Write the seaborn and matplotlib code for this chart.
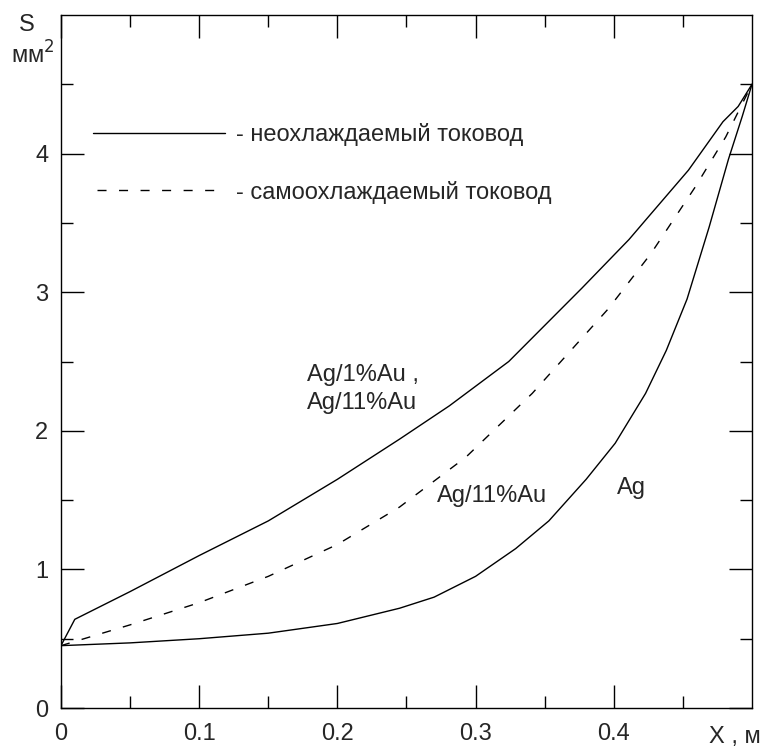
import numpy as np
import pandas as pd
import matplotlib
matplotlib.use("Agg")
import matplotlib.pyplot as plt
import seaborn as sns
from matplotlib.ticker import FixedLocator

# ------------------------------------------------------------
# Data
# ------------------------------------------------------------
# uncooled lead, Ag/1%Au and Ag/11%Au (upper solid)
x_upper = [0, 0.01, 0.05, 0.1, 0.15, 0.2, 0.245, 0.281, 0.324, 0.35, 0.377,
           0.411, 0.423, 0.454, 0.479, 0.49, 0.5]
s_upper = [0.45, 0.64, 0.84, 1.10, 1.35, 1.65, 1.94, 2.18, 2.50, 2.76, 3.03,
           3.38, 3.52, 3.88, 4.23, 4.34, 4.5]

# self-cooled lead, Ag/11%Au (dashed)
x_dash = [0, 0.02, 0.05, 0.1, 0.15, 0.2, 0.245, 0.293, 0.341, 0.396, 0.427,
          0.459, 0.481, 0.5]
s_dash = [0.45, 0.51, 0.60, 0.76, 0.95, 1.18, 1.45, 1.81, 2.27, 2.88, 3.28,
          3.76, 4.12, 4.5]

# uncooled lead, Ag (lower solid)
x_ag = [0, 0.05, 0.1, 0.15, 0.2, 0.245, 0.27, 0.3, 0.329, 0.353, 0.38, 0.401,
        0.423, 0.438, 0.453, 0.469, 0.483, 0.493, 0.5]
s_ag = [0.45, 0.47, 0.50, 0.54, 0.61, 0.72, 0.80, 0.95, 1.15, 1.35, 1.65, 1.91,
        2.27, 2.58, 2.95, 3.47, 3.96, 4.27, 4.5]

legend_labels = ["- неохлаждаемый токовод", "- самоохлаждаемый токовод"]

df = pd.concat([
    pd.DataFrame({"x": x_upper, "s": s_upper, "curve": "upper"}),
    pd.DataFrame({"x": x_dash, "s": s_dash, "curve": "dash"}),
    pd.DataFrame({"x": x_ag, "s": s_ag, "curve": "ag"}),
])

# ------------------------------------------------------------
# Style
# ------------------------------------------------------------
sns.set_style("white")
plt.rcParams["font.family"] = ["Liberation Sans", "DejaVu Sans"]
fs = 17

fig = plt.figure(figsize=(7.66, 7.49), dpi=100)
ax = fig.add_axes([0.0796, 0.0547, 0.9021, 0.9253])

dash_style = (0, (6.5, 9))
for name, ls in [("upper", "-"), ("dash", dash_style), ("ag", "-")]:
    sns.lineplot(data=df[df["curve"] == name], x="x", y="s", color="black",
                 linewidth=1.0, linestyle=ls, sort=False, estimator=None, ax=ax)

ax.set_xlim(0, 0.5)
ax.set_ylim(0, 5)
ax.set_xlabel("")
ax.set_ylabel("")

# ticks: inward, mirrored on all sides
ax.xaxis.set_major_locator(FixedLocator([0, 0.1, 0.2, 0.3, 0.4]))
ax.xaxis.set_minor_locator(FixedLocator([0.05, 0.15, 0.25, 0.35, 0.45]))
ax.set_xticklabels(["0", "0.1", "0.2", "0.3", "0.4"])
ax.yaxis.set_major_locator(FixedLocator([0, 1, 2, 3, 4]))
ax.yaxis.set_minor_locator(FixedLocator([0.5, 1.5, 2.5, 3.5, 4.5]))
ax.set_yticklabels(["0", "1", "2", "3", "4"])
ax.tick_params(which="both", direction="in", top=True, right=True,
               bottom=True, left=True, color="black", width=1.0)
ax.tick_params(which="major", length=16.5)
ax.tick_params(which="minor", length=8.6)
ax.tick_params(axis="x", which="major", pad=11, labelsize=fs)
ax.tick_params(axis="y", which="major", pad=9, labelsize=fs)

for sp in ax.spines.values():
    sp.set_color("black")
    sp.set_linewidth(1.0)

# axis titles
fig.text(27 / 766, 1 - 25 / 749, "S", ha="center", va="center", fontsize=fs)
fig.text(33 / 766, 1 - 55 / 749, "мм$^2$", ha="center", va="center", fontsize=fs)
fig.text(735 / 766, 1 - 737 / 749, "X , м", ha="center", va="center", fontsize=fs)

# legend drawn inside the plot
ax.plot([0.023, 0.119], [4.15, 4.15], color="black", linewidth=1.0)
ax.text(0.127, 4.14, legend_labels[0], ha="left", va="center", fontsize=fs)
ax.plot([0.026, 0.113], [3.74, 3.74], color="black", linewidth=1.0, linestyle=dash_style)
ax.text(0.127, 3.72, legend_labels[1], ha="left", va="center", fontsize=fs)

# curve labels
ax.text(0.178, 2.40, "Ag/1%Au ,", ha="left", va="center", fontsize=fs)
ax.text(0.178, 2.20, "Ag/11%Au", ha="left", va="center", fontsize=fs)
ax.text(0.272, 1.53, "Ag/11%Au", ha="left", va="center", fontsize=fs)
ax.text(0.402, 1.59, "Ag", ha="left", va="center", fontsize=fs)

fig.savefig("out.png", dpi=100)
